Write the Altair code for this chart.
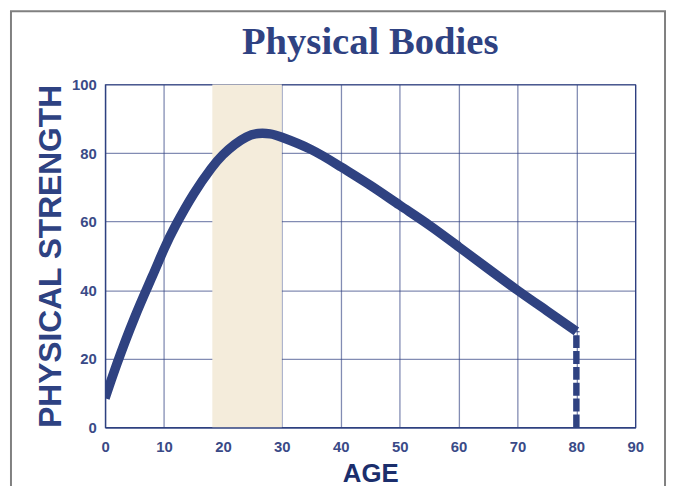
import altair as alt
import pandas as pd

# Data
ages = [0, 2, 5, 8, 10, 12, 15, 18, 20, 22, 24, 26, 28, 30, 35, 40, 45, 50, 55, 60, 65, 70, 75, 80]
strength = [8.5, 18.5, 32, 44, 52, 59, 68, 75.5, 79.5, 82.5, 84.7, 85.7, 85.6, 84.6,
            81, 76, 70.6, 64.8, 59, 52.7, 46.3, 40, 34, 28]
band_start = [18.2]
band_end = [30]
end_age = [80]
end_strength = [28]
x_ticks = [0, 10, 20, 30, 40, 50, 60, 70, 80, 90]
y_ticks = [0, 20, 40, 60, 80, 100]

NAVY = "#2f4281"

curve_df = pd.DataFrame({"age": ages, "strength": strength})
band_df = pd.DataFrame({"start": band_start, "end": band_end})
drop_df = pd.DataFrame({"age": end_age, "top": end_strength, "bottom": [0]})
frame_df = pd.DataFrame({"k": [0]})

x_scale = alt.Scale(domain=[0, 90], nice=False)
y_scale = alt.Scale(domain=[0, 100], nice=False)

x_axis = alt.Axis(values=x_ticks, title="AGE", titleColor="#1b2e6c", titleFontSize=26,
                  titlePadding=7, labelPadding=12, labelFlush=False)
y_axis = alt.Axis(values=y_ticks, title="PHYSICAL STRENGTH", titleColor="#2e4282",
                  titleFontSize=32, titlePadding=4, labelPadding=9)

frame = alt.Chart(frame_df).mark_rect(
    fillOpacity=0, stroke="#808080", strokeWidth=2, clip=False
).encode(
    x=alt.value(-95), x2=alt.value(565), y=alt.value(-74), y2=alt.value(520)
)

band = alt.Chart(band_df).mark_rect(color="#f4ecdb").encode(
    x=alt.X("start:Q", scale=x_scale, axis=x_axis),
    x2="end:Q",
)

line = alt.Chart(curve_df).mark_line(
    color=NAVY, strokeWidth=9.5, interpolate="natural", clip=True, strokeCap="butt"
).encode(
    x=alt.X("age:Q", scale=x_scale, axis=x_axis),
    y=alt.Y("strength:Q", scale=y_scale, axis=y_axis),
)

drop = alt.Chart(drop_df).mark_rule(
    color=NAVY, strokeWidth=6.5, strokeDash=[13, 3]
).encode(
    x=alt.X("age:Q", scale=x_scale),
    y=alt.Y("bottom:Q", scale=y_scale),
    y2="top:Q",
)

chart = alt.layer(frame, band, line, drop).properties(
    width=535,
    height=346,
    autosize="none",
    background="white",
    padding={"left": 98, "top": 75, "right": 32, "bottom": 57},
    title=alt.Title("Physical Bodies", font="Liberation Serif", fontSize=39,
                    fontWeight="bold", color="#2f4282", anchor="middle",
                    frame="group", baseline="alphabetic", offset=0, dy=83),
).configure_view(
    stroke=NAVY, strokeWidth=1.2
).configure_axis(
    labelFont="Liberation Sans", labelFontWeight="bold", labelFontSize=15,
    labelColor="#3a4a87", titleFont="Liberation Sans", titleFontWeight="bold",
    ticks=False, domainColor=NAVY, domainWidth=1.2,
    grid=True, gridColor="#2e3f80", gridOpacity=0.6, gridWidth=1.3, zindex=1,
)

chart.save("out.html", embed_options={"renderer": "svg", "actions": False})
